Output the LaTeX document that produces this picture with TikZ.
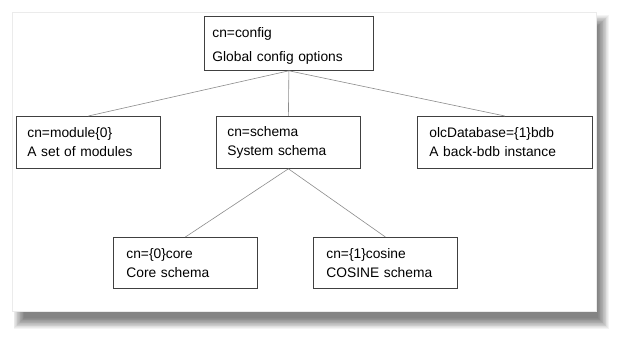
\documentclass[tikz,border=0pt]{standalone}
\usepackage{fontspec}
\setmainfont{Liberation Sans}
\usepackage{tikz}

\begin{document}
\begin{tikzpicture}[x=1pt, y=-1pt,
  box/.style={draw=black!75, line width=0.8pt, fill=white, align=left, anchor=north west,
    inner xsep=11pt, inner ysep=0pt, minimum height=52pt, font=\fontsize{13.8}{19}\selectfont},
  link/.style={draw=black!45, line width=0.6pt}]
%%%%% Page and its shadow %%%%%
\useasboundingbox (0,0) rectangle (624,339);
\foreach \k in {0,0.75,...,10.5}{
\fill[black, opacity=0.045] (24-\k,26-\k) rectangle (598+\k,318+\k);
}
\fill[white, draw=black!8] (12,12) rectangle (596,311);
%%%%% Entries %%%%%
\node[box, inner xsep=8pt, text width=153pt, minimum height=54pt] (config) at (204,16) {\rule{0pt}{15pt}cn=config\\[5pt]Global config options};
\node[box, text width=122pt] (module) at (16,116) {cn=module\{0\}\\A set of modules};
\node[box, text width=122pt] (schema) at (216,116) {cn=schema\\System schema};
\node[box, inner xsep=12pt, text width=151pt] (bdb) at (417,116) {olcDatabase=\{1\}bdb\\A back-bdb instance};
\node[box, inner xsep=13pt, text width=118pt, minimum height=51pt] (core) at (113,237) {cn=\{0\}core\\Core schema};
\node[box, inner xsep=13pt, text width=118pt, minimum height=51pt] (cosine) at (313,237) {cn=\{1\}cosine\\COSINE schema};
%%%%% Tree links %%%%%
\draw[link] (config.south) -- (module.north);
\draw[link] (config.south) -- (schema.north);
\draw[link] (config.south) -- (bdb.north);
\draw[link] (schema.south) -- (core.north);
\draw[link] (schema.south) -- (cosine.north);
\end{tikzpicture}
\end{document}
